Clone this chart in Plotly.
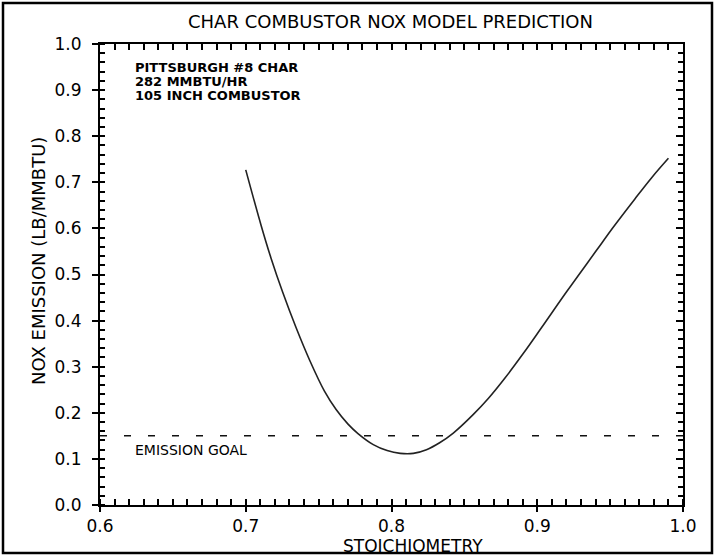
import plotly.graph_objects as go

# ---- data ----
STOICH = [0.700, 0.7105, 0.7173, 0.7253, 0.7345, 0.744, 0.754, 0.762, 0.770, 0.777,
          0.7875, 0.797, 0.806, 0.815, 0.824, 0.833, 0.8424, 0.856, 0.8664, 0.878,
          0.8905, 0.903, 0.920, 0.9408, 0.952, 0.967, 0.9785, 0.990]
NOX = [0.727, 0.607, 0.536, 0.462, 0.385, 0.313, 0.247, 0.207, 0.176, 0.155,
       0.131, 0.118, 0.112, 0.112, 0.120, 0.135, 0.156, 0.196, 0.231, 0.276,
       0.329, 0.385, 0.462, 0.553, 0.602, 0.664, 0.710, 0.752]
GOAL_X = [0.6, 1.0]
GOAL_Y = [0.15, 0.15]
X_RANGE = [0.6, 1.0]
Y_RANGE = [0.0, 1.0]
INFO_LINES = ["PITTSBURGH #8 CHAR", "282 MMBTU/HR", "105 INCH COMBUSTOR"]

FONT = "DejaVu Sans"

fig = go.Figure()
fig.add_trace(go.Scatter(x=STOICH, y=NOX, mode="lines",
                         line=dict(color="#222222", width=1.6, shape="spline", smoothing=1.0),
                         showlegend=False, hoverinfo="skip"))
fig.add_trace(go.Scatter(x=GOAL_X, y=GOAL_Y, mode="lines", xaxis="x2", yaxis="y2",
                         line=dict(color="#111111", width=1.5, dash="7px,17px"),
                         showlegend=False, hoverinfo="skip"))

axcommon = dict(showgrid=False, zeroline=False, showline=True, linecolor="black",
                linewidth=2, tickcolor="black", tickwidth=1.5)
xminor = dict(ticks="inside", tick0=0.6, dtick=0.01, ticklen=6, tickwidth=1.5,
              tickcolor="black", showgrid=False)
yminor = dict(ticks="inside", tick0=0.0, dtick=0.02, ticklen=5, tickwidth=1.5,
              tickcolor="black", showgrid=False)

fig.update_layout(
    width=716, height=557,
    margin=dict(l=100, r=33, t=44, b=52),
    paper_bgcolor="white", plot_bgcolor="white",
    font=dict(family=FONT, color="black"),
    xaxis=dict(range=X_RANGE, tickmode="linear", tick0=0.6, dtick=0.1, tickformat=".1f",
               ticks="outside", ticklen=5, tickfont=dict(size=17, family=FONT),
               minor=xminor, **axcommon),
    yaxis=dict(range=Y_RANGE, tickmode="linear", tick0=0.0, dtick=0.1, tickformat=".1f",
               ticks="outside", ticklen=6, tickfont=dict(size=17, family=FONT),
               ticklabelstandoff=7, minor=yminor, **axcommon),
    xaxis2=dict(range=X_RANGE, overlaying="x", side="top", anchor="y2",
                tickmode="linear", tick0=0.6, dtick=0.1, showticklabels=False,
                ticks="inside", ticklen=6, minor=xminor, **axcommon),
    yaxis2=dict(range=Y_RANGE, overlaying="y", side="right", anchor="x2",
                tickmode="linear", tick0=0.0, dtick=0.1, showticklabels=False,
                ticks="inside", ticklen=7, minor=yminor, **axcommon),
)

# outer frame around the whole picture
fig.add_shape(type="rect", xref="paper", yref="paper",
              x0=(3 - 100) / 583, x1=(712 - 100) / 583,
              y0=(505 - 553) / 461, y1=(505 - 3) / 461,
              line=dict(color="black", width=2.5), fillcolor="rgba(0,0,0,0)")

ann = []
ann.append(dict(text="CHAR COMBUSTOR NOX MODEL PREDICTION", xref="paper", yref="paper",
                x=(390 - 100) / 583, y=(505 - 22) / 461, showarrow=False,
                xanchor="center", yanchor="middle", font=dict(size=18, family=FONT)))
for line, ypx in zip(INFO_LINES, [67, 81, 95]):
    ann.append(dict(text="<b>" + line + "</b>", xref="paper", yref="paper",
                    x=(133 - 100) / 583, y=(505 - ypx) / 461, showarrow=False,
                    xanchor="left", yanchor="middle", font=dict(size=13, family=FONT)))
ann.append(dict(text="EMISSION GOAL", xref="paper", yref="paper",
                x=(133 - 100) / 583, y=(505 - 450) / 461, showarrow=False,
                xanchor="left", yanchor="middle", font=dict(size=14, family=FONT)))
ann.append(dict(text="STOICHIOMETRY", xref="paper", yref="paper",
                x=(413 - 100) / 583, y=(505 - 546) / 461, showarrow=False,
                xanchor="center", yanchor="middle", font=dict(size=17, family=FONT)))
ann.append(dict(text="NOX EMISSION (LB/MMBTU)", xref="paper", yref="paper",
                x=(38 - 100) / 583, y=(505 - 261) / 461, showarrow=False, textangle=-90,
                xanchor="center", yanchor="middle", font=dict(size=18, family=FONT)))
fig.update_layout(annotations=ann)

fig.write_html("out.html")
